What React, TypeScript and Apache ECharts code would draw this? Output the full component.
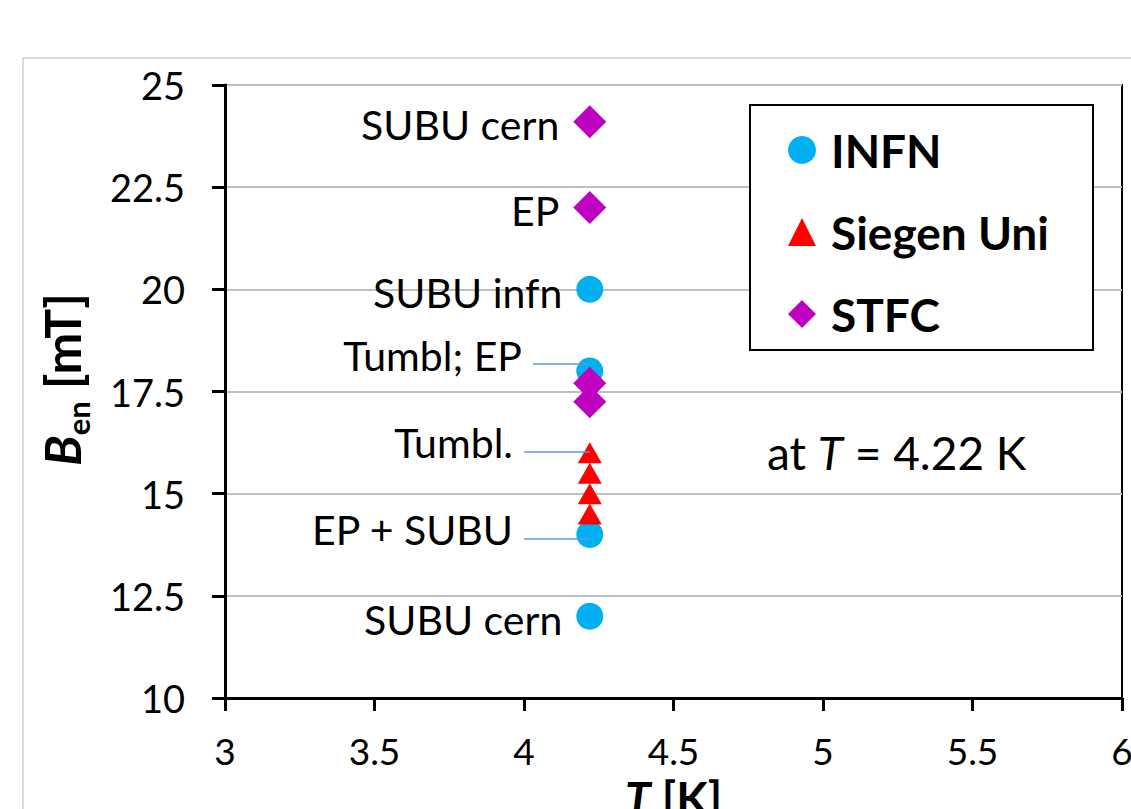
import React, { useEffect, useRef } from "react";
import * as echarts from "echarts";

// Measurement temperature (K)
const T_MEAS = 4.22;

// INFN samples: onset field B_en (mT) and treatment notes
const infnB = [20, 18, 14, 12];
const infnNotes = ["SUBU infn", "", "", "SUBU cern"];

// Siegen Uni samples
const siegenB = [16, 15.5, 15, 14.5];

// STFC samples
const stfcB = [24.1, 22, 17.7, 17.25];
const stfcNotes = ["SUBU cern", "EP", "", ""];

// Notes attached with leader lines
const leaderNotes = ["Tumbl; EP", "Tumbl.", "EP + SUBU"];
const leaderB = [18.17, 16.02, 13.9];
const leaderStartT = [4.03, 4.0, 4.0];

const legendNames = ["INFN", "Siegen Uni", "STFC"];

const FONT = "Lato";

export default function App() {
  const ref = useRef<HTMLDivElement>(null);

  useEffect(() => {
    if (!ref.current) return;
    const chart = echarts.init(ref.current, null, { renderer: "svg" });

    const noteLabel = (notes: string[]) => ({
      show: true,
      position: "left" as const,
      distance: 14,
      offset: [0, 3],
      color: "#000",
      fontFamily: FONT,
      fontSize: 41,
      formatter: (p: any) => notes[p.dataIndex],
    });

    const option: any = {
      animation: false,
      backgroundColor: "#fff",
      grid: {
        left: 225,
        right: 9,
        top: 85,
        bottom: 111,
        outerBoundsMode: "none",
        containLabel: false,
        show: true,
        borderColor: "#000",
        borderWidth: 2,
        backgroundColor: "transparent",
      },
      xAxis: {
        type: "value",
        min: 3,
        max: 6,
        interval: 0.5,
        name: "{t|T}{a| [K]}",
        nameLocation: "middle",
        nameGap: 76,
        nameTextStyle: {
          rich: {
            t: { fontFamily: FONT, fontSize: 46, fontWeight: "bold", fontStyle: "italic", color: "#000" },
            a: { fontFamily: FONT, fontSize: 46, fontWeight: "bold", color: "#000" },
          },
        },
        axisLine: { show: true, lineStyle: { color: "#000", width: 3 } },
        axisTick: { show: true, inside: false, length: 13, lineStyle: { color: "#000", width: 3 } },
        axisLabel: { color: "#000", fontFamily: FONT, fontSize: 37, margin: 34 },
        splitLine: { show: false },
      },
      yAxis: {
        type: "value",
        min: 10,
        max: 25,
        interval: 2.5,
        name: "{b|B}{s|en}{a| [mT]}",
        nameLocation: "middle",
        nameRotate: 90,
        nameGap: 132,
        nameTextStyle: {
          rich: {
            b: { fontFamily: FONT, fontSize: 50, lineHeight: 62, fontWeight: "bold", fontStyle: "italic", color: "#000", verticalAlign: "middle", padding: [0, 0, 0, 24] },
            s: { fontFamily: FONT, fontSize: 31, lineHeight: 31, fontWeight: "bold", color: "#000", verticalAlign: "bottom" },
            a: { fontFamily: FONT, fontSize: 50, lineHeight: 62, fontWeight: "bold", color: "#000", verticalAlign: "middle" },
          },
        },
        axisLine: { show: true, lineStyle: { color: "#000", width: 3 } },
        axisTick: { show: true, inside: false, length: 13, lineStyle: { color: "#000", width: 3 } },
        axisLabel: { color: "#000", fontFamily: FONT, fontSize: 38, margin: 40 },
        splitLine: { show: true, lineStyle: { color: "#bfbfbf", width: 2 } },
      },
      legend: {
        data: legendNames,
        orient: "vertical",
        left: 783,
        top: 122,
        itemWidth: 28,
        itemHeight: 28,
        itemGap: 36,
        z: 10,
        textStyle: {
          fontFamily: FONT,
          fontSize: 46,
          lineHeight: 46,
          fontWeight: "bold",
          color: "#000",
          padding: [0, 0, 0, 10],
        },
      },
      graphic: [
        {
          type: "rect",
          z: -10,
          silent: true,
          shape: { x: 23, y: 58, width: 1300, height: 900 },
          style: { fill: "none", stroke: "#d0d0d0", lineWidth: 1.5 },
        },
        {
          type: "rect",
          z: 5,
          silent: true,
          shape: { x: 750, y: 105, width: 343, height: 245 },
          style: { fill: "#fff", stroke: "#000", lineWidth: 2 },
        },
        {
          type: "text",
          z: 5,
          x: 767,
          y: 452,
          style: {
            text: "{a|at }{t|T}{a| = 4.22 K}",
            verticalAlign: "middle",
            rich: {
              a: { fontFamily: FONT, fontSize: 46, fill: "#000" },
              t: { fontFamily: FONT, fontSize: 46, fontStyle: "italic", fill: "#000" },
            },
          },
        },
      ],
      series: [
        {
          name: "notes",
          type: "scatter",
          z: 1,
          silent: true,
          symbolSize: 0,
          itemStyle: { opacity: 1 },
          data: leaderB.map((b, i) => [leaderStartT[i], b]),
          label: {
            show: true,
            position: "left",
            distance: 11,
            offset: [0, -9],
            color: "#000",
            fontFamily: FONT,
            fontSize: 41,
            formatter: (p: any) => leaderNotes[p.dataIndex],
          },
          markLine: {
            silent: true,
            symbol: "none",
            label: { show: false },
            lineStyle: { color: "#5b9bd5", width: 1.5, type: "solid" },
            data: leaderB.map((b, i) => [
              { coord: [leaderStartT[i], b] },
              { coord: [T_MEAS, b] },
            ]),
          },
        },
        {
          name: "INFN",
          type: "scatter",
          z: 3,
          symbol: "circle",
          symbolSize: 27,
          itemStyle: { color: "#00b0f0", opacity: 1 },
          data: infnB.map((b) => [T_MEAS, b]),
          label: noteLabel(infnNotes),
        },
        {
          name: "Siegen Uni",
          type: "scatter",
          z: 3,
          symbol: "triangle",
          symbolSize: [24, 21],
          itemStyle: { color: "#ff0000", opacity: 1 },
          data: siegenB.map((b) => [T_MEAS, b]),
        },
        {
          name: "STFC",
          type: "scatter",
          z: 3,
          symbol: "diamond",
          symbolSize: 33,
          itemStyle: { color: "#c000c0", opacity: 1 },
          data: stfcB.map((b) => [T_MEAS, b]),
          label: noteLabel(stfcNotes),
        },
      ],
    };

    chart.setOption(option);
    return () => chart.dispose();
  }, []);

  return (
    <div
      ref={ref}
      style={{ position: "absolute", left: 0, top: 0, width: 1131, height: 809 }}
    />
  );
}
